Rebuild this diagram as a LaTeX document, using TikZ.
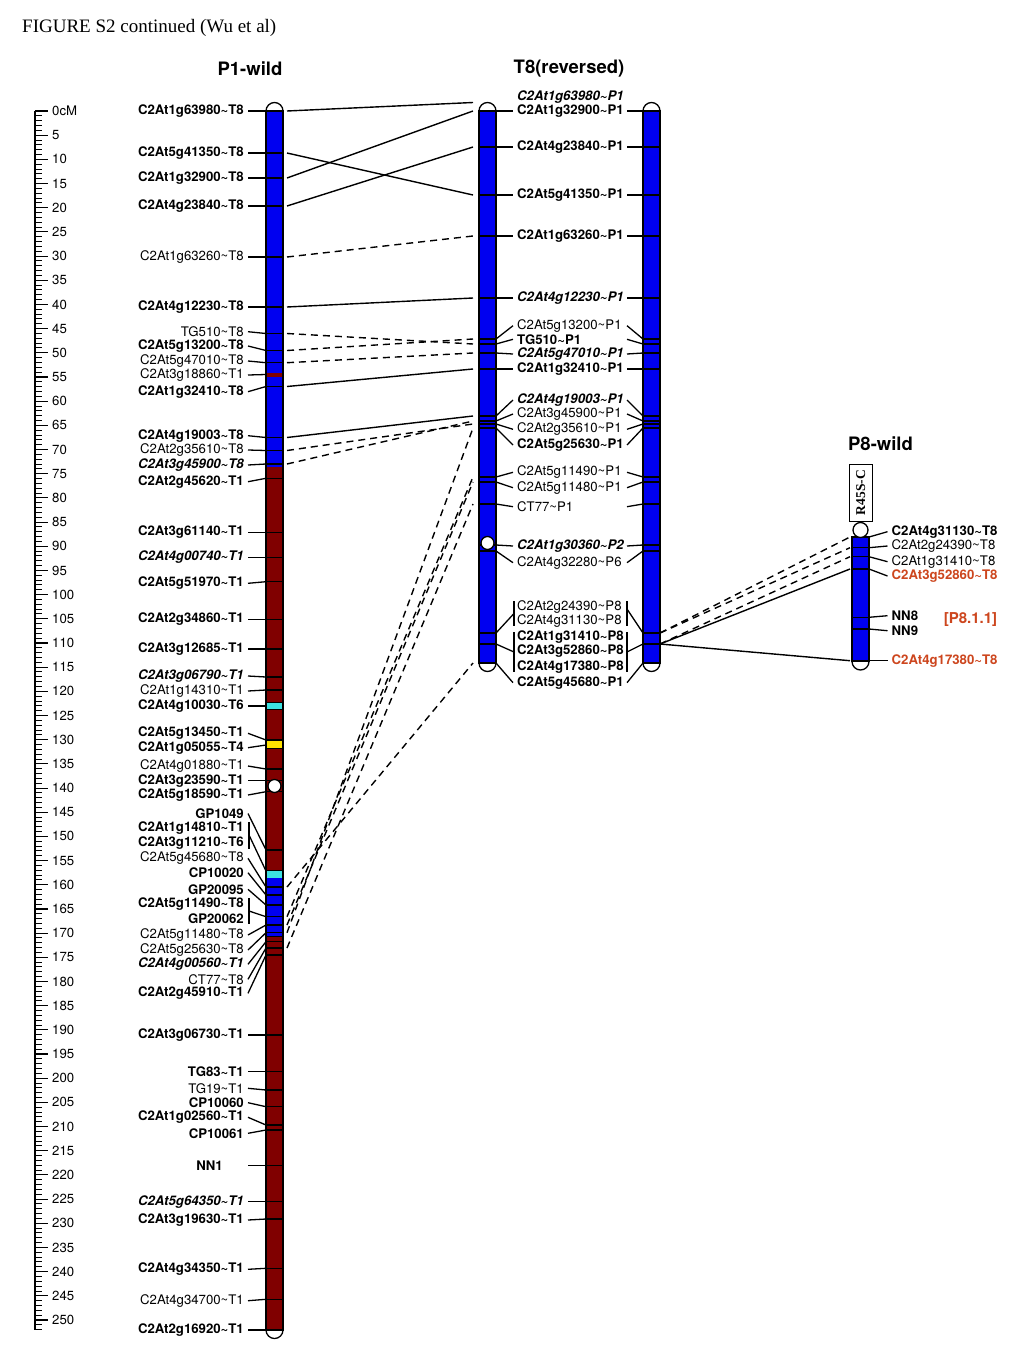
\documentclass[tikz,border=0pt]{standalone}
\usepackage{fontspec}
\setmainfont{Liberation Serif}
\setsansfont{TeX Gyre Heros}
\usetikzlibrary{calc}

\definecolor{chrblue}{RGB}{0,0,240}
\definecolor{chrred}{RGB}{128,0,0}
\definecolor{chrcyan}{RGB}{60,225,225}
\definecolor{chryellow}{RGB}{255,225,0}
\definecolor{p8orange}{RGB}{205,70,30}

\newcommand{\td}{\textasciitilde}
\newcommand{\lblb}{\bfseries}
\newcommand{\lbln}{\mdseries}
\newcommand{\lblbi}{\bfseries\itshape}

\tikzset{
  mk/.style={font=\fontsize{13.2}{13.2}\selectfont\sffamily, inner sep=0pt},
  maptitle/.style={font=\fontsize{18.5}{18.5}\selectfont\sffamily\bfseries, inner sep=0pt},
  leader/.style={line width=1.3pt},
  tickln/.style={line width=1.2pt},
  bar/.style={line width=1.3pt},
  link/.style={line width=1.4pt},
  linkd/.style={line width=1.4pt, dash pattern=on 7pt off 5pt},
}

\begin{document}
\begin{tikzpicture}[x=1pt,y=-1pt]
\useasboundingbox (0,0) rectangle (1024,1365);
\fill[white] (0,0) rectangle (1024,1365);

\node[anchor=west, inner sep=0pt, font=\fontsize{19}{19}\selectfont] (hdr) at (22,28) {FIGURE S2 continued (Wu et al)};
\node[maptitle] (p1title) at (250,69) {P1-wild};
\node[maptitle] (t8title) at (569,69) {T8(reversed)};
\node[maptitle] (p8title) at (880.5,444) {P8-wild};

%scale bar
\draw[bar] (35,111) -- (35,1330);
\foreach \c in {0,...,252} \draw[line width=1pt] (35,{111+\c*4.836}) -- ++(7,0);
\foreach \c in {0,5,...,250} \draw[line width=1.1pt] (35,{111+\c*4.836}) -- ++(13,0);
\node[mk, anchor=west] (sc0) at (52,111) {0cM};
\foreach \c in {5,10,...,250} \node[mk, anchor=west] (sc\c) at (52,{111+\c*4.836}) {\c};

%%%%%%%%%%%%%%%%%%%%%%%%%%%%%%%%%%%%%%%% P1-wild
\draw[bar, fill=white] (274.5,111) circle (8.5pt);
\draw[bar, fill=white] (274.5,1330) circle (8.5pt);
\fill[chrblue] (266,111) rectangle (283,467);
\fill[chrred] (266,467) rectangle (283,1330);
\fill[chrblue] (266,878) rectangle (283,936);

\foreach \ly/\ty/\f/\txt [count=\k] in {
  111/111/b/C2At1g63980\td T8, 153/153/b/C2At5g41350\td T8, 178/178/b/C2At1g32900\td T8,
  206/206/b/C2At4g23840\td T8, 257/257/n/C2At1g63260\td T8, 307/307/b/C2At4g12230\td T8,
  331.7/333.5/n/TG510\td T8, 346/350.5/b/C2At5g13200\td T8, 361/362.7/n/C2At5g47010\td T8,
  375/374.5/n/C2At3g18860\td T1, 391.7/386.5/b/C2At1g32410\td T8, 435.7/437.5/b/C2At4g19003\td T8,
  450/450.5/n/C2At2g35610\td T8, 465/464/bi/C2At3g45900\td T8, 481.7/478.3/b/C2At2g45620\td T1,
  532.3/532.3/b/C2At3g61140\td T1, 557.3/557.3/bi/C2At4g00740\td T1, 583.3/581.7/b/C2At5g51970\td T1,
  619.3/619.3/b/C2At2g34860\td T1, 649/649/b/C2At3g12685\td T1, 676/677/bi/C2At3g06790\td T1,
  691/690/n/C2At1g14310\td T1, 706/706/b/C2At4g10030\td T6, 733.3/740/b/C2At5g13450\td T1,
  747.7/745/b/C2At1g05055\td T4, 766/769/n/C2At4g01880\td T1, 780.7/780.7/b/C2At3g23590\td T1,
  795/791.7/b/C2At5g18590\td T1, 813.5/850/b/GP1049, 858.3/887/n/C2At5g45680\td T8,
  872.7/895/b/CP10020, 889.3/905/b/GP20095, 935/925/n/C2At5g11480\td T8,
  950/932.7/n/C2At5g25630\td T8, 964.3/941.7/bi/C2At4g00560\td T1, 979.3/948/n/CT77\td T8,
  993.3/955/b/C2At2g45910\td T1, 1035/1035/b/C2At3g06730\td T1, 1071.7/1071.7/b/TG83\td T1,
  1088.3/1090/n/TG19\td T1, 1102.7/1106.7/b/CP10060, 1117.3/1125/b/C2At1g02560\td T1,
  1133.3/1130/b/CP10061, 1201.7/1201.7/bi/C2At5g64350\td T1, 1220/1219/b/C2At3g19630\td T1,
  1269.3/1268.3/b/C2At4g34350\td T1, 1300.7/1299.3/n/C2At4g34700\td T1, 1330/1330/b/C2At2g16920\td T1}
{
  \node[mk, anchor=east] (pa\k) at (244,\ly) {\csname lbl\f\endcsname\txt};
  \coordinate (pt\k) at (266,\ty);
  \draw[tickln] (pt\k) -- ++(17,0);
  \draw[leader] ([xshift=4pt]pa\k.east) -- (pt\k);
}
% coloured bands
\fill[chrred] (266,372.5) rectangle (283,376.5);
\fill[chrcyan] (266,702) rectangle (283,709.5);
\fill[chryellow] (266,740.5) rectangle (283,748);
\fill[chrcyan] (266,870.5) rectangle (283,878);
\foreach \yy in {702,709.5,740.5,748,870.5,936} \draw[line width=0.7pt] (266,\yy) -- (283,\yy);

% bracketed groups and NN1
\node[mk, anchor=east] (pb1) at (244,828.3) {\lblb C2At1g14810\td T1};
\node[mk, anchor=east] (pb2) at (244,843.3) {\lblb C2At3g11210\td T6};
\coordinate (pbt1) at (266,871);
\draw[leader] (249,822) -- (249,849);
\draw[leader] (249,835) -- (pbt1);
\node[mk, anchor=east] (pb3) at (244,904.3) {\lblb C2At5g11490\td T8};
\node[mk, anchor=east] (pb4) at (244,918.3) {\lblb GP20062};
\coordinate (pbt2) at (266,916.7);
\draw[tickln] (pbt2) -- ++(17,0);
\draw[leader] (249,898) -- (249,924);
\draw[leader] (249,911) -- (pbt2);
\node[mk, anchor=east] (pnn) at (223,1165.7) {\lblb NN1};
\coordinate (pnt) at (266,1165.7);
\draw[tickln] (pnt) -- ++(17,0);
\draw[leader] (248,1165.7) -- (pnt);

\draw[bar] (266,111) rectangle (283,1330);
\draw[bar, fill=white] (274.5,786) circle (6.5pt);

%%%%%%%%%%%%%%%%%%%%%%%%%%%%%%%%%%%%%%%% T8(reversed)
\foreach \bx in {479,643} {
  \draw[bar, fill=white] (\bx+8.5,111) circle (8.5pt);
  \draw[bar, fill=white] (\bx+8.5,663) circle (8.5pt);
  \fill[chrblue] (\bx,111) rectangle (\bx+17,663);
}
\node[mk, anchor=west] (ql0) at (517,97) {\lblbi C2At1g63980\td P1};
\coordinate (qt0) at (479,102.5);

\foreach \ly/\ty/\f/\txt [count=\k] in {
  111/111/b/C2At1g32900\td P1, 147/147/b/C2At4g23840\td P1, 195/195/b/C2At5g41350\td P1,
  236/236/b/C2At1g63260\td P1, 298/298/bi/C2At4g12230\td P1, 325.7/339/n/C2At5g13200\td P1,
  339.3/344/b/TG510\td P1, 354/353/bi/C2At5g47010\td P1, 369/369/b/C2At1g32410\td P1,
  400/416/bi/C2At4g19003\td P1, 414/421/n/C2At3g45900\td P1, 429.3/424/n/C2At2g35610\td P1,
  445/428/b/C2At5g25630\td P1, 472.3/477/n/C2At5g11490\td P1, 487.7/482/n/C2At5g11480\td P1,
  506.7/504/n/CT77\td P1, 546/545/bi/C2At1g30360\td P2, 562.7/551/n/C2At4g32280\td P6,
  682.7/663/b/C2At5g45680\td P1}
{
  \node[mk, anchor=west] (ql\k) at (517,\ly) {\csname lbl\f\endcsname\txt};
  \coordinate (qt\k) at (479,\ty);
  \coordinate (qr\k) at (643,\ty);
  \coordinate (qe\k) at (627,\ly);
  \draw[tickln] (qt\k) -- ++(17,0);
  \draw[tickln] (qr\k) -- ++(17,0);
  \draw[leader] ([xshift=17pt]qt\k) -- ([xshift=-4pt]ql\k.west);
  \draw[leader] (qe\k) -- (qr\k);
}
% P8 groups
\node[mk, anchor=west] (qg1) at (517,606.7) {\lbln C2At2g24390\td P8};
\node[mk, anchor=west] (qg2) at (517,620.7) {\lbln C2At4g31130\td P8};
\node[mk, anchor=west] (qg3) at (517,637.3) {\lblb C2At1g31410\td P8};
\node[mk, anchor=west] (qg4) at (517,651.3) {\lblb C2At3g52860\td P8};
\node[mk, anchor=west] (qg5) at (517,666.7) {\lblb C2At4g17380\td P8};
\coordinate (qgl1) at (479,633);
\coordinate (qgl2) at (479,644);
\coordinate (qgr1) at (643,633);
\coordinate (qgr2) at (643,644);
\foreach \g in {qgl1,qgl2,qgr1,qgr2} \draw[tickln] (\g) -- ++(17,0);
\draw[leader] (514,601) -- (514,626);
\draw[leader] (514,632) -- (514,672);
\draw[leader] (627,601) -- (627,626);
\draw[leader] (627,632) -- (627,672);
\draw[leader] ([xshift=17pt]qgl1) -- (514,613.5);
\draw[leader] ([xshift=17pt]qgl2) -- (514,652);
\draw[leader] (627,609) -- (qgr1);
\draw[leader] (627,652) -- (qgr2);

\foreach \bx in {479,643} \draw[bar] (\bx,111) rectangle (\bx+17,663);
\draw[bar, fill=white] (487.5,543) circle (6.5pt);

%%%%%%%%%%%%%%%%%%%%%%%%%%%%%%%%%%%%%%%% P8-wild
\draw[bar, fill=white] (860.5,661.5) circle (8.5pt);
\fill[chrblue] (852,537) rectangle (869,661.5);
\foreach \ly/\ty/\f/\c/\txt [count=\k] in {
  531.7/537/b/black/C2At4g31130\td T8, 546/547.7/n/black/C2At2g24390\td T8,
  561.7/556.7/n/black/C2At1g31410\td T8, 576/569/b/p8orange/C2At3g52860\td T8,
  615.7/617.3/b/black/NN8, 630.7/629/b/black/NN9, 660.7/660.7/b/p8orange/C2At4g17380\td T8}
{
  \node[mk, anchor=west, text=\c] (rl\k) at (891.5,\ly) {\csname lbl\f\endcsname\txt};
  \coordinate (rt\k) at (852,\ty);
  \draw[tickln] (rt\k) -- ++(17,0);
  \draw[leader] ([xshift=17pt]rt\k) -- ([xshift=-4pt]rl\k.west);
}
\draw[bar] (852,537) rectangle (869,661.5);
\draw[bar, fill=white] (860.5,530) circle (7.5pt);
\node[draw, line width=1.2pt, rotate=90, minimum width=57pt, minimum height=23pt, inner sep=0pt,
  font=\fontsize{13.5}{13.5}\selectfont\bfseries] (r45s) at (860.8,492.6) {R45S-C};
\node[inner sep=0pt, text=p8orange, font=\fontsize{15}{15}\selectfont\sffamily\bfseries] (p811) at (970.5,620) {[P8.1.1]};

%%%%%%%%%%%%%%%%%%%%%%%%%%%%%%%%%%%%%%%% links P1 -> T8
\foreach \a/\b in {1/0, 2/3, 3/1, 4/2, 6/5, 11/9, 12/10}
  \draw[link] ([xshift=21pt]pt\a) -- ([xshift=-6pt]qt\b);
\foreach \a/\b in {5/4, 7/7, 8/6, 9/8, 13/12, 14/11, 30/19, 33/15, 34/13, 36/16}
  \draw[linkd] ([xshift=21pt]pt\a) -- ([xshift=-6pt]qt\b);
\draw[linkd] ([xshift=21pt]pbt2) -- ([xshift=-6pt]qt14);

% links T8 -> P8
\draw[linkd] ([xshift=17pt]qgr1) -- ([xshift=-2pt]rt1);
\draw[linkd] ([xshift=17pt]qgr1) -- ([xshift=-2pt]rt2);
\draw[linkd] ([xshift=17pt]qgr2) -- ([xshift=-2pt]rt3);
\draw[link] ([xshift=17pt]qgr2) -- ([xshift=-2pt]rt4);
\draw[link] ([xshift=17pt]qgr2) -- ([xshift=-2pt]rt7);
\end{tikzpicture}
\end{document}
